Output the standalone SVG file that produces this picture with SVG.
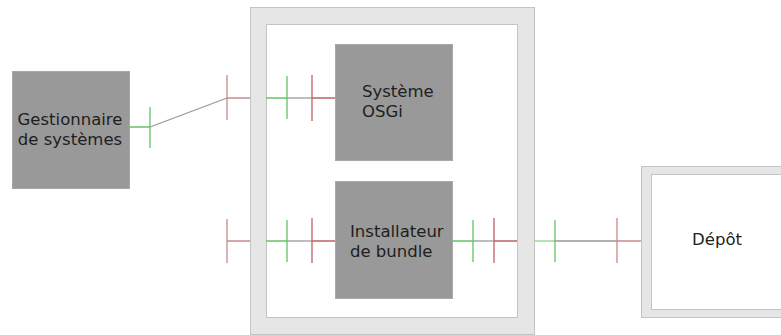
<svg xmlns="http://www.w3.org/2000/svg" width="781" height="335" viewBox="0 0 781 335">
<style>
.frame{fill:#e6e6e6;stroke:#c4c4c4;stroke-width:1}
.inner{fill:#ffffff;stroke:#c4c4c4;stroke-width:1}
.box{fill:#999999;stroke:#a8a8a8;stroke-width:1}
.t{font-family:"DejaVu Sans",sans-serif;font-size:16.5px;fill:#1e1e1e}
.g{stroke:#66c266;stroke-width:1.3;fill:none}
.gl{stroke:#8fd18f;stroke-width:1.3;fill:none}
.r{stroke:#c06262;stroke-width:1.3;fill:none}
.rl{stroke:#c98a8a;stroke-width:1.3;fill:none}
.k{stroke:#999999;stroke-width:1.3;fill:none}
</style>
<rect width="781" height="335" fill="#ffffff"/>
<g id="conteneur">
<rect class="frame" x="250.5" y="7.5" width="284" height="327"/>
<rect class="inner" x="266.5" y="24.5" width="251" height="293"/>
</g>
<g id="depot">
<rect class="frame" x="641.5" y="166.5" width="150" height="151"/>
<rect class="inner" x="651.5" y="174.5" width="140" height="135"/>
<text class="t" x="717" y="245" text-anchor="middle">Dépôt</text>
</g>
<g id="gestionnaire">
<rect class="box" x="12.5" y="71.5" width="117" height="117"/>
<text class="t" x="70" y="125" text-anchor="middle">Gestionnaire</text>
<text class="t" x="70" y="145" text-anchor="middle">de systèmes</text>
</g>
<g id="systeme-osgi">
<rect class="box" x="335.5" y="44.5" width="117" height="116"/>
<text class="t" x="362" y="97">Système</text>
<text class="t" x="362" y="117">OSGi</text>
</g>
<g id="installateur">
<rect class="box" x="335.5" y="181.5" width="117" height="117"/>
<text class="t" x="350" y="237">Installateur</text>
<text class="t" x="350" y="257">de bundle</text>
</g>
<g id="connecteurs">
<path class="g" d="M129 127H150M150 107V148"/>
<path class="k" d="M150 127L227 98"/>
<path class="rl" d="M227 98H250M227 75V120"/>
<path class="g" d="M266 98H287M287 76V119"/>
<path class="k" d="M287 98H312"/>
<path class="r" d="M312 98H335M312 75V121"/>
<path class="rl" d="M227 241H250M227 219V263"/>
<path class="g" d="M266 241H287M287 220V262"/>
<path class="k" d="M287 241H312"/>
<path class="r" d="M312 241H335M312 218V263"/>
<path class="g" d="M452 241H473M473 220V262"/>
<path class="k" d="M473 241H494"/>
<path class="r" d="M494 241H517M494 218V263"/>
<path class="gl" d="M534 241H555"/>
<path class="g" d="M555 220V262"/>
<path class="k" d="M555 241H617"/>
<path class="rl" d="M617 241H641M617 218V263"/>
</g>
</svg>
